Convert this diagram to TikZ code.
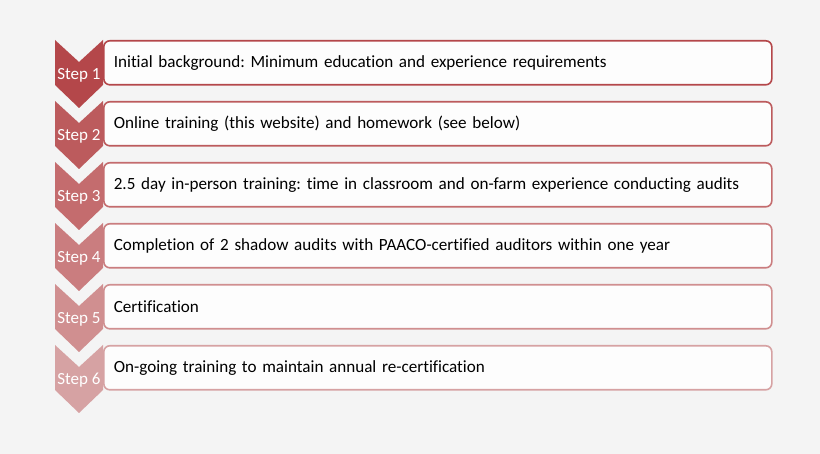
\documentclass[tikz,border=0pt]{standalone}
\usepackage{fontspec}
\setmainfont{Carlito}[Ligatures=NoCommon]
\frenchspacing
\definecolor{pagebg}{HTML}{F4F4F4}
\definecolor{boxfill}{HTML}{FDFDFD}
\definecolor{step1}{HTML}{B4474A}
\definecolor{step2}{HTML}{BC5B5D}
\definecolor{step3}{HTML}{C46C6E}
\definecolor{step4}{HTML}{CA7D7F}
\definecolor{step5}{HTML}{D08F90}
\definecolor{step6}{HTML}{D6A2A3}
\begin{document}
\begin{tikzpicture}[x=1pt,y=-1pt,
    chevron/.style={fill=#1},
    stepbox/.style={draw=#1,line width=1.6pt,rounded corners=6pt,fill=boxfill,
      anchor=north west,minimum width=668pt,minimum height=44pt,
      text width=648pt,align=left,inner xsep=10pt,inner ysep=0pt,
      font=\fontsize{17.1}{20}\selectfont},
    steplabel/.style={anchor=base,text=white,inner sep=0pt,
      font=\fontsize{17}{20}\selectfont}]
  \fill[pagebg] (0,0) rectangle (820,454);
  \useasboundingbox (0,0) rectangle (820,454);
  \foreach \i/\txt in {1/{Initial background: Minimum education and experience requirements},
      2/{Online training (this website) and homework (see below)},
      3/{2.5 day in-person training: time in classroom and on-farm experience conducting audits},
      4/{Completion of 2 shadow audits with PAACO-certified auditors within one year},
      5/{Certification},
      6/{On-going training to maintain annual re-certification}}
  {
    \begin{scope}[yshift={-61pt*(\i-1)}]
      \fill[chevron=step\i] (55,40) -- (79,62) -- (103,40) -- (103,85)
        -- (79,108) -- (55,85) -- cycle;
      \node[stepbox=step\i] (box\i) at (103,40) {\txt};
      \node[steplabel] (label\i) at (79,80) {Step \i};
    \end{scope}
  }
\end{tikzpicture}
\end{document}
